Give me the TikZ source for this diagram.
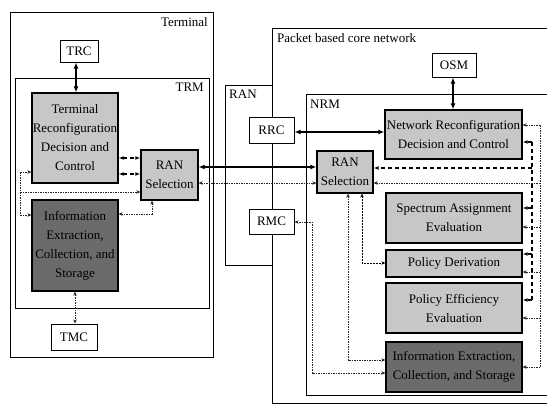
\documentclass[tikz,border=0pt]{standalone}
\usepackage{fontspec}
\setmainfont{Liberation Serif}
\usetikzlibrary{arrows.meta,calc}
\begin{document}
\begin{tikzpicture}[x=1pt,y=-1pt,
  font=\fontsize{13}{19}\selectfont,
  frame/.style={draw=black,line width=0.9pt},
  wbox/.style={draw=black,line width=1pt,fill=white,inner sep=0pt,align=center},
  lbox/.style={draw=black,line width=1.3pt,fill=black!22,inner sep=0pt,align=center},
  dbox/.style={draw=black,line width=1.3pt,fill=black!58,inner sep=0pt,align=center,text=black},
  thickarr/.style={line width=1.8pt,{Latex[length=6pt,width=5pt]}-{Latex[length=6pt,width=5pt]}},
  thickdash/.style={line width=1.5pt,dash pattern=on 4pt off 3pt},
  dotline/.style={line width=0.8pt,black!85,dash pattern=on 1.5pt off 1pt},
  tip/.style={-{Stealth[length=4pt,width=3.5pt]}},
  tips/.style={{Stealth[length=4pt,width=3.5pt]}-{Stealth[length=4pt,width=3.5pt]}}
]
\useasboundingbox (0,0) rectangle (547,407);
\clip (0,0) rectangle (547,407);
% frames
\draw[frame] (10,12) rectangle (213,357);
\draw[frame] (15,78) rectangle (209,308);
\draw[frame] (272,28) rectangle (560,403);
\draw[frame] (225,85) rectangle (272,265);
\draw[frame] (306,94) rectangle (560,395);
\node[anchor=north east,inner sep=0pt] (lterm) at (208,17) {Terminal};
\node[anchor=north east,inner sep=0pt] (ltrm) at (204,83) {TRM};
\node[anchor=north west,inner sep=0pt] (lran) at (229,90) {RAN};
\node[anchor=north west,inner sep=0pt] (lcore) at (277,33) {Packet based core network};
\node[anchor=north west,inner sep=0pt] (lnrm) at (310,100) {NRM};
% terminal nodes
\node[wbox,minimum width=38pt,minimum height=22pt] (TRC) at (79,51) {TRC};
\node[lbox,minimum width=86pt,minimum height=90pt] (TRDC) at (75,138) {Terminal\\Reconfiguration\\Decision and\\Control};
\node[lbox,minimum width=57pt,minimum height=50pt] (tRAN) at (169.5,175) {RAN\\Selection};
\node[dbox,minimum width=86pt,minimum height=91pt] (tInfo) at (75,245.5) {Information\\Extraction,\\Collection, and\\Storage};
\node[wbox,minimum width=46pt,minimum height=26pt] (TMC) at (74,337) {TMC};
% RAN nodes
\node[wbox,minimum width=45pt,minimum height=26pt] (RRC) at (271.5,130) {RRC};
\node[wbox,minimum width=45pt,minimum height=25pt] (RMC) at (271.5,221.5) {RMC};
% network nodes
\node[wbox,minimum width=44pt,minimum height=24pt] (OSM) at (454,65) {OSM};
\node[lbox,minimum width=137pt,minimum height=49pt] (NRDC) at (453.5,134.5) {Network Reconfiguration\\Decision and Control};
\node[lbox,minimum width=56pt,minimum height=42pt] (nRAN) at (345,172) {RAN\\Selection};
\node[lbox,minimum width=136pt,minimum height=50pt] (SAE) at (454,218) {Spectrum Assignment\\Evaluation};
\node[lbox,minimum width=136pt,minimum height=27pt] (PD) at (454,263.5) {Policy Derivation};
\node[lbox,minimum width=136pt,minimum height=50pt] (PEE) at (454,308) {Policy Efficiency\\Evaluation};
\node[dbox,minimum width=136pt,minimum height=50pt] (nInfo) at (454,367) {Information Extraction,\\Collection, and Storage};
% helper coordinates
\coordinate (ya) at (0,158);
\coordinate (yb) at (0,174);
\coordinate (yc) at (0,172);
\coordinate (yd) at (0,192);
\coordinate (ye) at (0,215);
\coordinate (yf) at (0,214);
\coordinate (xl) at (20,0);
\coordinate (xm) at (152,0);
\coordinate (yg) at (0,167);
\coordinate (yh) at (0,183);
\coordinate (yi) at (0,132);
\coordinate (xr) at (532,0);
\coordinate (xs) at (540,0);
\coordinate (y142) at (0,142);
\coordinate (y168) at (0,168);
\coordinate (y208) at (0,208);
\coordinate (y254) at (0,254);
\coordinate (y300) at (0,300);
\coordinate (y125) at (0,125);
\coordinate (y227) at (0,227);
\coordinate (y272) at (0,272);
\coordinate (y318) at (0,318);
\coordinate (y367) at (0,367);
\coordinate (x348) at (348,0);
\coordinate (x362) at (362,0);
\coordinate (y360) at (0,360);
\coordinate (y263) at (0,263);
\coordinate (x312) at (312,0);
\coordinate (y373) at (0,373);
\coordinate (y222) at (0,222);
% terminal connectors
\draw[thickarr] (TRC.south -| 76,0) -- (TRDC.north -| 76,0);
\draw[thickdash,{Latex[length=5pt]}-{Latex[length=5pt]}] (TRDC.east |- ya) -- (tRAN.west |- ya);
\draw[thickdash,{Latex[length=5pt]}-{Latex[length=5pt]}] (TRDC.east |- yb) -- (tRAN.west |- yb);
\draw[dotline,tip] (xl |- yc) -- (TRDC.west |- yc);
\draw[dotline,tip] (xl |- ye) -- (tInfo.west |- ye);
\draw[dotline] (xl |- yc) -- (xl |- ye);
\draw[dotline,tip] (xl |- yd) -- (tRAN.west |- yd);
\draw[dotline,tips] (tInfo.east |- yf) -- (xm |- yf) -- (xm |- tRAN.south);
\draw[dotline,tips] (TMC.north -| 75,0) -- (tInfo.south -| 75,0);
% terminal - network
\draw[thickarr] (tRAN.east |- yg) -- (nRAN.west |- yg);
\draw[dotline,tips] (tRAN.east |- yh) -- (nRAN.west |- yh);
\draw[thickarr] (RRC.east |- yi) -- (NRDC.west |- yi);
\draw[thickarr] (OSM.south -| 453,0) -- (NRDC.north -| 453,0);
% right thick dashed bus
\draw[thickdash] (xr |- y142) -- (xr |- y300);
\draw[thickdash,-{Latex[length=5pt]}] (xr |- y142) -- (NRDC.east |- y142);
\draw[thickdash,-{Latex[length=5pt]}] (xr |- y168) -- (nRAN.east |- y168);
\draw[thickdash,-{Latex[length=5pt]}] (xr |- y208) -- (SAE.east |- y208);
\draw[thickdash,-{Latex[length=5pt]}] (xr |- y254) -- (PD.east |- y254);
\draw[thickdash,-{Latex[length=5pt]}] (xr |- y300) -- (PEE.east |- y300);
% right dotted bus
\draw[dotline] (xs |- y125) -- (xs |- y367);
\draw[dotline,tip] (xs |- y125) -- (NRDC.east |- y125);
\draw[dotline,tip] (xs |- yh) -- (nRAN.east |- yh);
\draw[dotline,tip] (xs |- y227) -- (SAE.east |- y227);
\draw[dotline,tip] (xs |- y272) -- (PD.east |- y272);
\draw[dotline,tip] (xs |- y318) -- (PEE.east |- y318);
\draw[dotline,tip] (xs |- y367) -- (nInfo.east |- y367);
% network internal
\draw[dotline,tips] (x348 |- nRAN.south) -- (x348 |- y360) -- (nInfo.west |- y360);
\draw[line width=0.9pt,dash pattern=on 2pt off 1pt,tips] (x362 |- nRAN.south) -- (x362 |- y263) -- (PD.west |- y263);
\draw[dotline,tips] (RMC.east |- y222) -- (x312 |- y222) -- (x312 |- y373) -- (nInfo.west |- y373);
\end{tikzpicture}
\end{document}
